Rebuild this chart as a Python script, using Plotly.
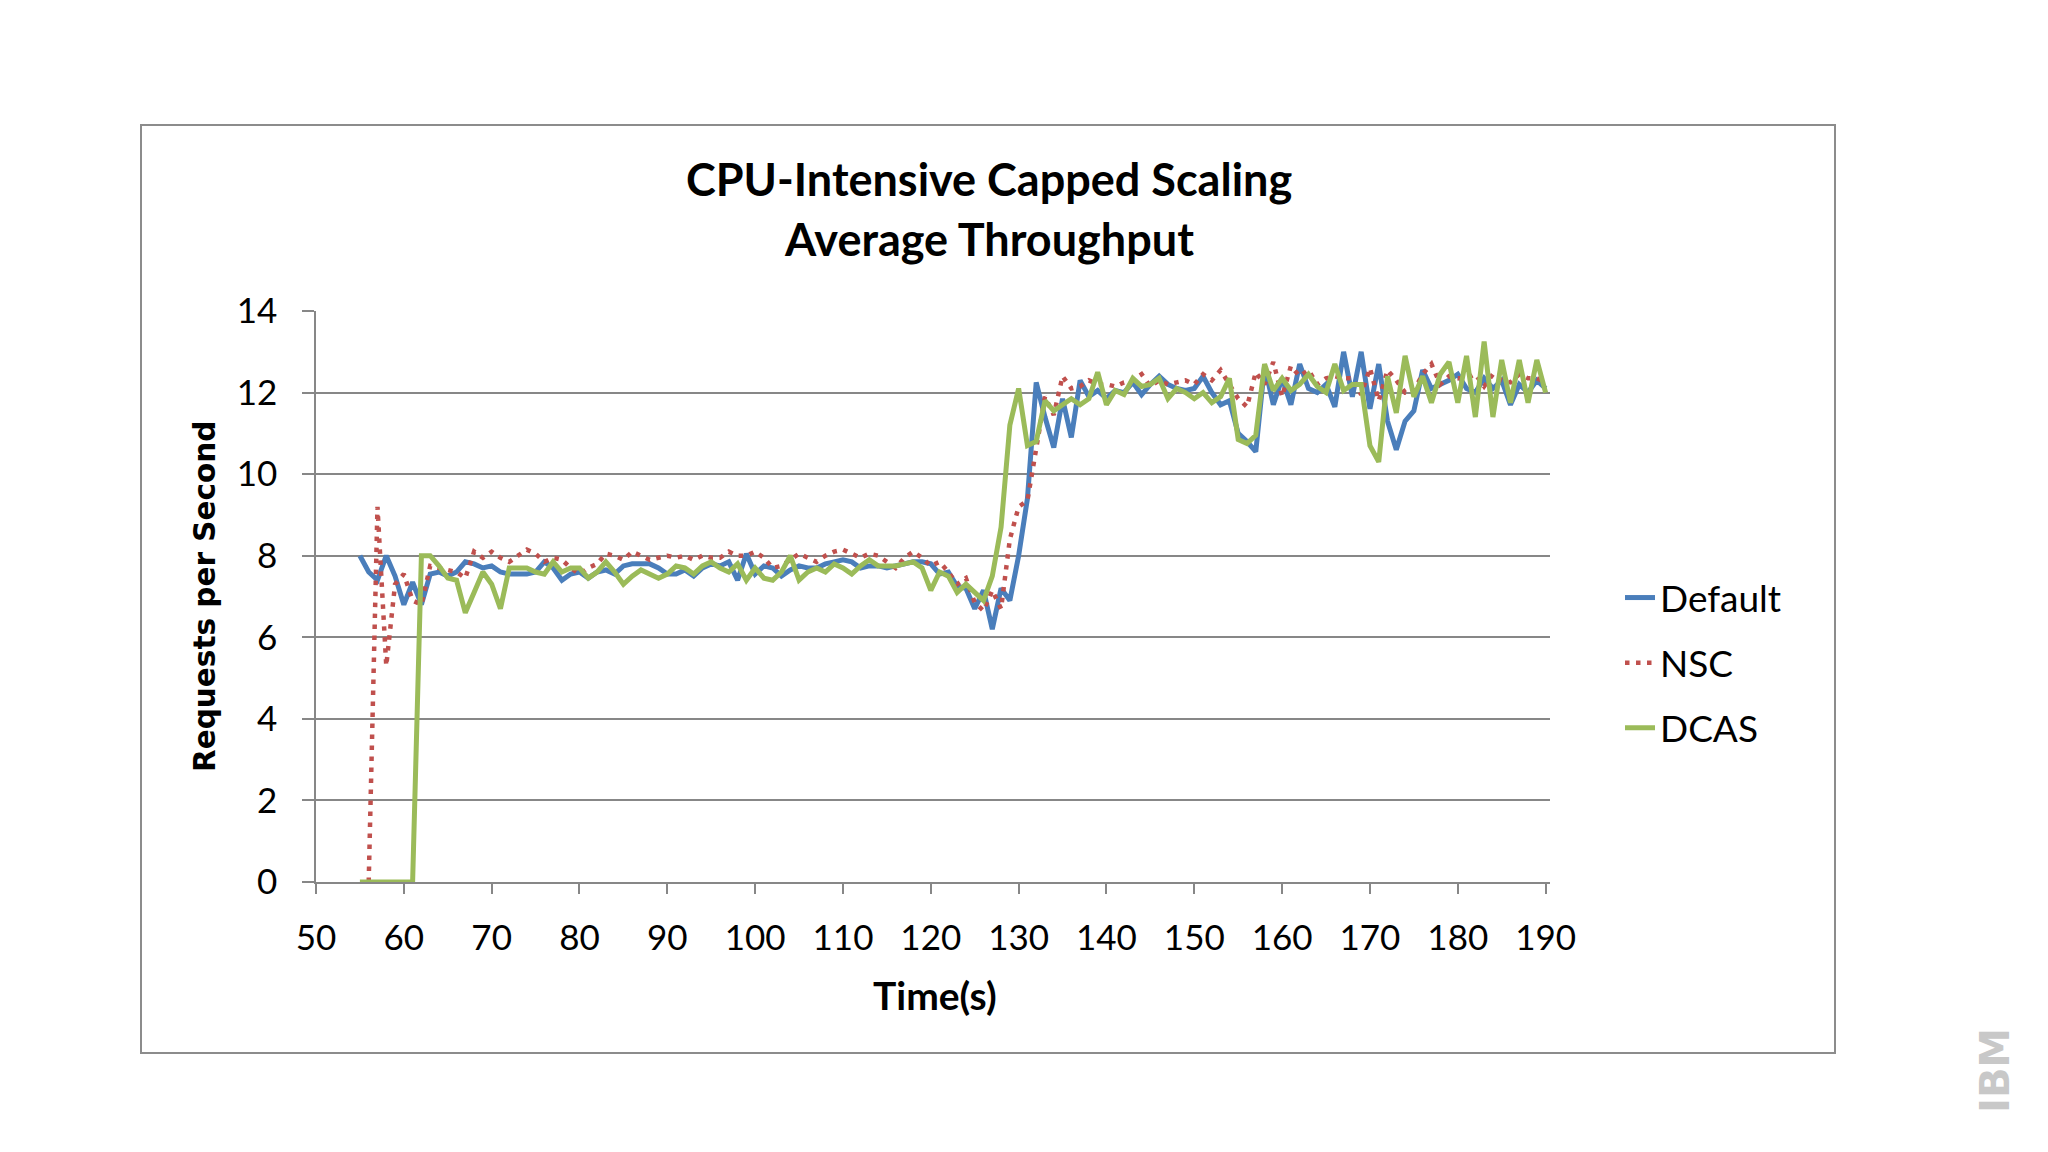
import plotly.graph_objects as go

time_s = list(range(55, 191))

default_rps = [
    8.0, 7.6, 7.4, 8.0, 7.5, 6.8, 7.35, 6.8, 7.55, 7.6,        # 55-64
    7.5, 7.6, 7.85, 7.8, 7.7, 7.75, 7.6, 7.55, 7.55, 7.55,     # 65-74
    7.6, 7.85, 7.7, 7.4, 7.55, 7.6, 7.45, 7.6, 7.65, 7.55,     # 75-84
    7.75, 7.8, 7.8, 7.8, 7.7, 7.55, 7.55, 7.65, 7.5, 7.7,      # 85-94
    7.8, 7.75, 7.85, 7.4, 8.05, 7.55, 7.75, 7.7, 7.5, 7.65,    # 95-104
    7.75, 7.7, 7.7, 7.8, 7.85, 7.9, 7.85, 7.7, 7.75, 7.75,     # 105-114
    7.7, 7.75, 7.8, 7.85, 7.85, 7.8, 7.55, 7.6, 7.25, 7.2,     # 115-124
    6.7, 7.15, 6.2, 7.2, 6.9, 8.0, 9.4, 12.25, 11.4, 10.65,    # 125-134
    11.85, 10.9, 12.3, 11.9, 12.05, 11.85, 12.05, 12.0, 12.25, 11.95,  # 135-144
    12.2, 12.4, 12.2, 12.1, 12.05, 12.1, 12.4, 12.0, 11.7, 11.8,       # 145-154
    11.0, 10.8, 10.55, 12.65, 11.7, 12.35, 11.7, 12.7, 12.1, 12.0,     # 155-164
    12.2, 11.65, 13.0, 11.9, 13.0, 11.6, 12.7, 11.3, 10.6, 11.3,       # 165-174
    11.55, 12.55, 12.1, 12.2, 12.3, 12.45, 12.1, 12.0, 12.35, 12.1,    # 175-184
    12.3, 11.7, 12.2, 12.0, 12.3, 12.1,                                # 185-190
]

nsc_rps = [
    None, 0.0, 9.2, 5.3, 7.3, 7.55, 6.9, 6.8, 7.75, 7.7,       # 55-64
    7.65, 7.6, 7.45, 8.1, 7.95, 8.1, 7.95, 7.85, 8.0, 8.15,    # 65-74
    8.05, 7.85, 7.95, 7.9, 7.7, 7.55, 7.7, 7.8, 8.05, 8.0,     # 75-84
    7.9, 8.1, 8.0, 7.9, 7.95, 8.0, 7.95, 8.0, 7.9, 8.0,        # 85-94
    7.95, 7.95, 8.1, 8.0, 8.0, 8.1, 7.95, 7.7, 7.75, 7.9,      # 95-104
    8.05, 7.95, 7.85, 8.0, 8.1, 8.15, 8.05, 7.95, 8.05, 8.0,   # 105-114
    7.85, 7.7, 7.95, 8.1, 7.95, 7.75, 7.85, 7.6, 7.3, 7.45,    # 115-124
    6.85, 6.65, 7.15, 6.7, 8.4, 9.2, 9.35, 10.6, 11.9, 11.45,  # 125-134
    12.4, 12.1, 12.15, 12.3, 12.2, 12.2, 12.15, 12.25, 12.3, 12.45,    # 135-144
    12.15, 12.3, 12.2, 12.25, 12.3, 12.2, 12.45, 12.3, 12.55, 12.2,    # 145-154
    11.85, 11.65, 12.5, 12.2, 12.75, 11.9, 12.65, 12.4, 12.55, 12.2,   # 155-164
    12.35, 12.4, 12.35, 12.35, 11.95, 12.6, 11.8, 12.55, 12.3, 12.0,   # 165-174
    12.05, 12.45, 12.7, 12.2, 12.4, 12.35, 12.35, 12.45, 12.15, 12.45, # 175-184
    12.3, 12.25, 12.45, 12.35, 12.35, 12.25,                           # 185-190
]

dcas_rps = [
    0.0, 0.0, 0.0, 0.0, 0.0, 0.0, 0.0, 8.0, 8.0, 7.75,         # 55-64
    7.45, 7.4, 6.6, 7.1, 7.6, 7.3, 6.7, 7.7, 7.7, 7.7,         # 65-74
    7.6, 7.55, 7.85, 7.6, 7.7, 7.7, 7.45, 7.6, 7.85, 7.6,      # 75-84
    7.3, 7.5, 7.65, 7.55, 7.45, 7.55, 7.75, 7.7, 7.55, 7.75,   # 85-94
    7.85, 7.7, 7.6, 7.8, 7.4, 7.7, 7.45, 7.4, 7.6, 8.0,        # 95-104
    7.4, 7.6, 7.7, 7.6, 7.8, 7.7, 7.55, 7.75, 7.9, 7.75,       # 105-114
    7.75, 7.75, 7.8, 7.85, 7.7, 7.15, 7.6, 7.5, 7.1, 7.3,      # 115-124
    7.1, 6.9, 7.5, 8.7, 11.2, 12.1, 10.7, 10.8, 11.8, 11.55,   # 125-134
    11.7, 11.85, 11.7, 11.85, 12.5, 11.7, 12.05, 11.95, 12.35, 12.15,  # 135-144
    12.2, 12.35, 11.85, 12.1, 12.0, 11.85, 12.0, 11.75, 11.9, 12.35,   # 145-154
    10.85, 10.75, 10.95, 12.7, 12.05, 12.35, 12.05, 12.2, 12.45, 12.15,# 155-164
    12.0, 12.7, 12.05, 12.2, 12.2, 10.7, 10.3, 12.4, 11.5, 12.9,       # 165-174
    11.9, 12.4, 11.75, 12.45, 12.75, 11.75, 12.9, 11.4, 13.25, 11.4,   # 175-184
    12.8, 11.75, 12.8, 11.75, 12.8, 12.0,                              # 185-190
]

x_ticks = list(range(50, 191, 10))
y_ticks = list(range(0, 15, 2))

series_names = ["Default", "NSC", "DCAS"]
title_lines = ["CPU-Intensive Capped Scaling", "Average Throughput"]

FONT = "Lato"
GRID = "#878787"

fig = go.Figure()
fig.add_trace(go.Scatter(x=time_s, y=default_rps, name=series_names[0], mode="lines",
                         legendgroup="a",
                         line=dict(color="#4A7EBB", width=5)))
fig.add_trace(go.Scatter(x=time_s, y=nsc_rps, name=series_names[1], mode="lines",
                         legendgroup="b",
                         line=dict(color="#C0504D", width=4.5, dash="4.5px,6.5px")))
fig.add_trace(go.Scatter(x=time_s, y=dcas_rps, name=series_names[2], mode="lines",
                         legendgroup="c",
                         line=dict(color="#9BBB59", width=5)))

W, H = 2032, 1136
L, R, T, B = 308, 490, 303, 262
pw = W - L - R
ph = H - T - B

def px_x(X):
    return (X - L) / pw

def px_y(Y):
    return (H - B - Y) / ph

fig.update_layout(
    width=W, height=H,
    margin=dict(l=L, r=R, t=T, b=B, pad=0),
    paper_bgcolor="white", plot_bgcolor="white",
    font=dict(family=FONT, color="#000000", size=35),
    showlegend=True,
    legend=dict(x=px_x(1612), xanchor="left", y=px_y(559), yanchor="top",
                font=dict(family=FONT, size=37, color="#000"),
                tracegroupgap=14, bgcolor="rgba(0,0,0,0)"),
    xaxis=dict(range=[50, 190.5], tickvals=x_ticks, ticktext=[str(v) for v in x_ticks],
               showgrid=False, zeroline=False, showline=True, linecolor=GRID, linewidth=1.5,
               ticks="outside", ticklen=10, tickcolor=GRID, tickwidth=1.5,
               ticklabelstandoff=14,
               tickfont=dict(family=FONT, size=35, color="#000")),
    yaxis=dict(range=[0, 14], tickvals=y_ticks, ticktext=[str(v) for v in y_ticks],
               showgrid=True, gridcolor=GRID, gridwidth=1.5, zeroline=False,
               showline=True, linecolor=GRID, linewidth=1.5,
               ticks="outside", ticklen=12, tickcolor=GRID, tickwidth=1.5,
               ticklabelstandoff=18,
               tickfont=dict(family=FONT, size=35, color="#000")),
)

# chart-area border
fig.add_shape(type="rect", xref="paper", yref="paper",
              x0=px_x(133), x1=px_x(1827), y0=px_y(1045), y1=px_y(117),
              line=dict(color="#8c8c8c", width=2), fillcolor="rgba(0,0,0,0)", layer="below")

# title
fig.add_annotation(xref="paper", yref="paper", x=px_x(981), y=px_y(171),
                   text="<b>" + title_lines[0] + "</b>", showarrow=False,
                   font=dict(family=FONT, size=45, color="#000"), xanchor="center", yanchor="middle")
fig.add_annotation(xref="paper", yref="paper", x=px_x(981), y=px_y(231),
                   text="<b>" + title_lines[1] + "</b>", showarrow=False,
                   font=dict(family=FONT, size=45, color="#000"), xanchor="center", yanchor="middle")

# axis titles
fig.add_annotation(xref="paper", yref="paper", x=px_x(927), y=px_y(987),
                   text="<b>Time(s)</b>", showarrow=False,
                   font=dict(family=FONT, size=39, color="#000"), xanchor="center", yanchor="middle")
fig.add_annotation(xref="paper", yref="paper", x=px_x(197), y=px_y(589),
                   text="<b>Requests per Second</b>", showarrow=False, textangle=-90,
                   font=dict(family="DejaVu Sans", size=29.5, color="#000"),
                   xanchor="center", yanchor="middle")

# corner logo
fig.add_annotation(xref="paper", yref="paper", x=px_x(1987), y=px_y(1063),
                   text="<b>IBM</b>", showarrow=False, textangle=-90,
                   font=dict(family="DejaVu Sans", size=40, color="#c8c8c8"),
                   xanchor="center", yanchor="middle")

fig.write_html("out.html")
